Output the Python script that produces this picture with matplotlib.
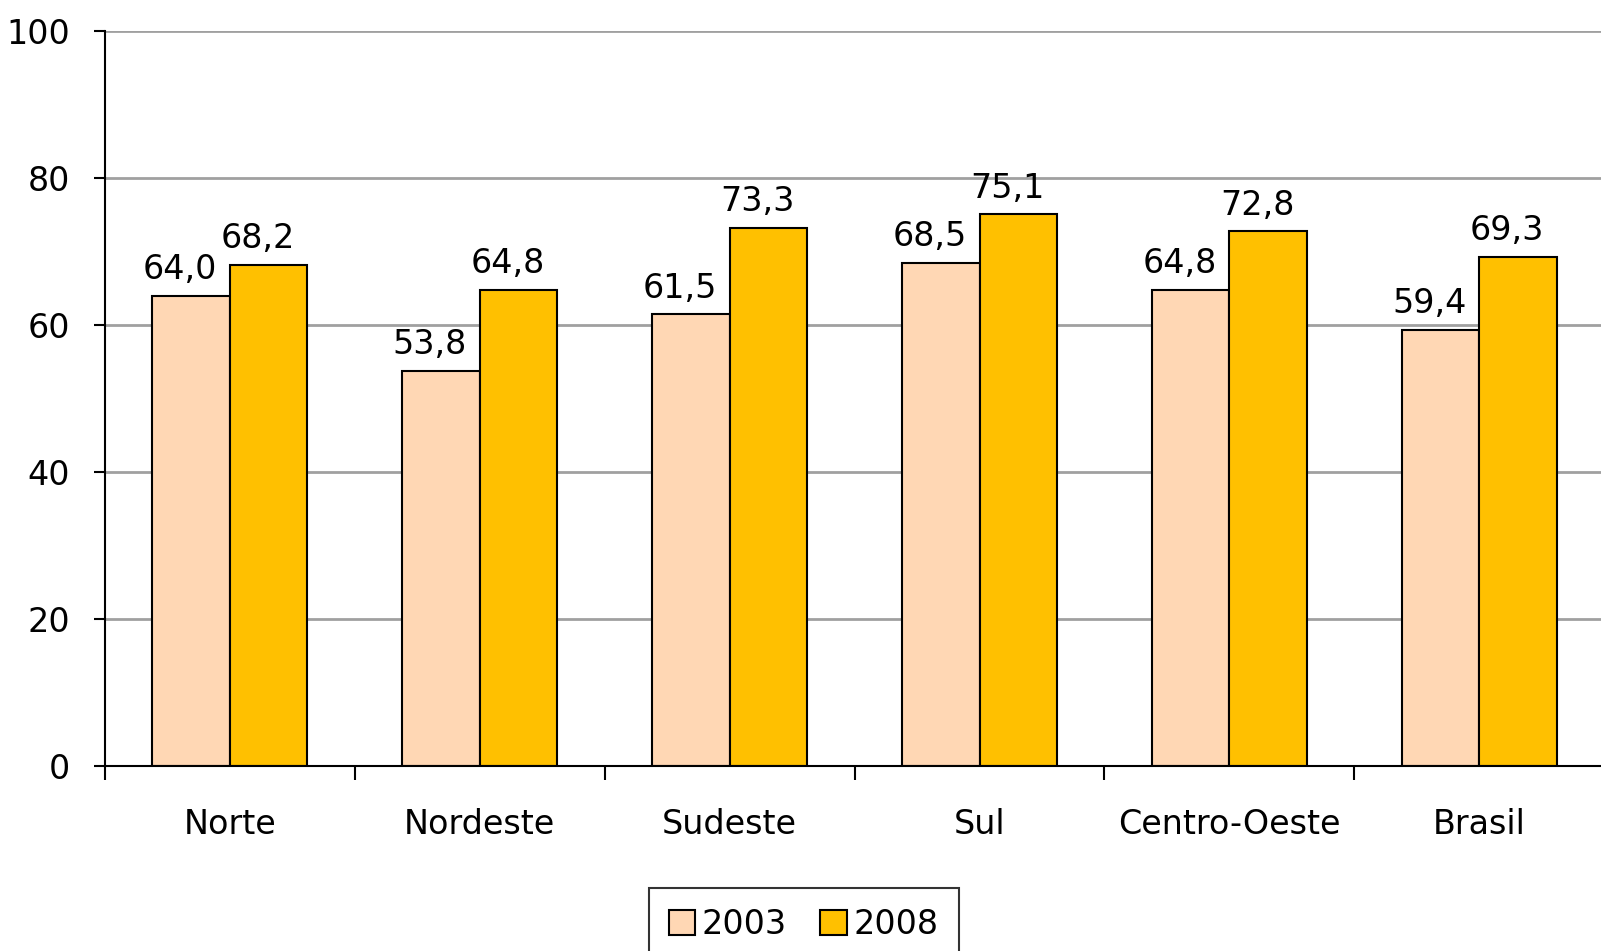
import matplotlib.pyplot as plt
import numpy as np

regioes = ["Norte", "Nordeste", "Sudeste", "Sul", "Centro-Oeste", "Brasil"]
anos = ["2003", "2008"]
valores_2003 = [64.0, 53.8, 61.5, 68.5, 64.8, 59.4]
valores_2008 = [68.2, 64.8, 73.3, 75.1, 72.8, 69.3]
cores = ["#FFD7B4", "#FFC000"]

plt.rcParams["font.family"] = ["DejaVu Sans"]

fig = plt.figure(figsize=(16.01, 9.51), dpi=100)
ax = fig.add_axes([0.0656, 0.1945, 0.9364, 0.7725])

x = np.arange(len(regioes))
largura = 0.31

for i, (serie, ano) in enumerate(zip([valores_2003, valores_2008], anos)):
    pos = x + (i - 0.5) * largura
    ax.bar(pos, serie, width=largura, color=cores[i], edgecolor="black",
           linewidth=1.5, label=ano, zorder=3)
    for px, v in zip(pos, serie):
        ax.annotate(f"{v:.1f}".replace(".", ","), (px, v),
                    xytext=(-8, 12), textcoords="offset points",
                    ha="center", va="baseline", fontsize=24)

ax.set_xlim(-0.5, len(regioes) - 0.5)
ax.set_ylim(0, 100)
ax.set_yticks(range(0, 101, 20))
ax.tick_params(axis="y", labelsize=24, length=8, width=1.5, pad=17)

# categorias no centro, marcas de escala entre os grupos
ax.set_xticks(x)
ax.set_xticklabels(regioes, fontsize=24)
ax.tick_params(axis="x", length=0, pad=30)
ax.set_xticks(np.arange(-0.5, len(regioes)), minor=True)
ax.tick_params(axis="x", which="minor", length=10, width=1.5)

ax.yaxis.grid(True, color="#A0A0A0", linewidth=2)
ax.set_axisbelow(True)
for lado in ["top", "right"]:
    ax.spines[lado].set_visible(False)
for lado in ["left", "bottom"]:
    ax.spines[lado].set_linewidth(1.5)
    ax.spines[lado].set_zorder(4)

leg = fig.legend(loc="upper center", bbox_to_anchor=(0.502, 0.066), ncol=2,
                 fontsize=24, frameon=True, fancybox=False, edgecolor="black",
                 handlelength=0.8, handleheight=0.8, handletextpad=0.2,
                 columnspacing=1.0, borderpad=0.6, borderaxespad=0)
leg.get_frame().set_linewidth(1.5)

fig.savefig("out.png", dpi=100)
